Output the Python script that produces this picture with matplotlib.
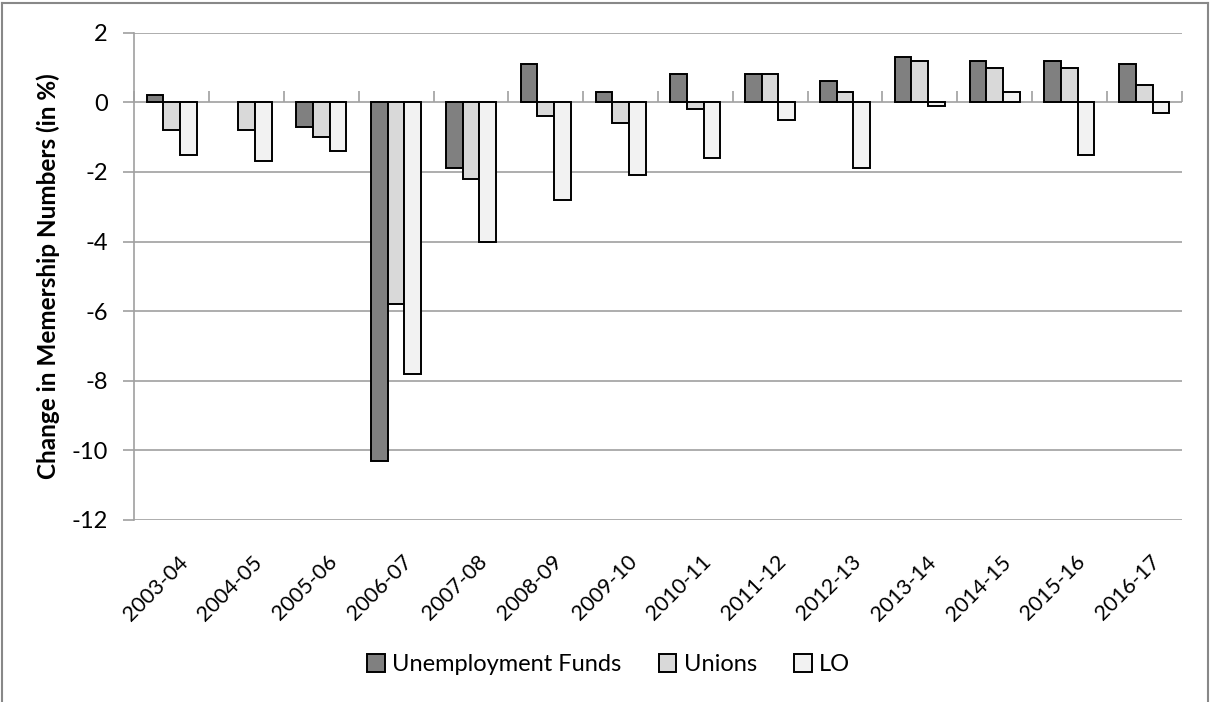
import matplotlib
matplotlib.use('Agg')
import matplotlib.pyplot as plt
import matplotlib.transforms as mtransforms
import numpy as np
from matplotlib.lines import Line2D

plt.rcParams['font.family'] = ['Lato', 'DejaVu Sans']
plt.rcParams['axes.unicode_minus'] = False

years = ['2003-04', '2004-05', '2005-06', '2006-07', '2007-08', '2008-09', '2009-10',
         '2010-11', '2011-12', '2012-13', '2013-14', '2014-15', '2015-16', '2016-17']
unemployment_funds = [0.2, 0.0, -0.7, -10.3, -1.9, 1.1, 0.3, 0.8, 0.8, 0.6, 1.3, 1.2, 1.2, 1.1]
unions = [-0.8, -0.8, -1.0, -5.8, -2.2, -0.4, -0.6, -0.2, 0.8, 0.3, 1.2, 1.0, 1.0, 0.5]
lo = [-1.5, -1.7, -1.4, -7.8, -4.0, -2.8, -2.1, -1.6, -0.5, -1.9, -0.1, 0.3, -1.5, -0.3]

series = [('Unemployment Funds', unemployment_funds, '#808080'),
          ('Unions', unions, '#d9d9d9'),
          ('LO', lo, '#f2f2f2')]

grid_col = '#a0a0a0'
fs = 17

fig = plt.figure(figsize=(12.1, 7.02), dpi=100)
ax = fig.add_axes([0.111, 0.2593, 0.8655, 0.6941])

x = np.arange(len(years))
w = 0.223
for i, (name, vals, col) in enumerate(series):
    bars = ax.bar(x + (i - 1) * w, vals, w, color=col, edgecolor='black', linewidth=1.4,
                  label=name, zorder=3)
    for b, v in zip(bars, vals):
        if v == 0:
            b.set_visible(False)

ax.set_xlim(-0.5, len(years) - 0.5)
ax.set_ylim(-12, 2)
ax.set_yticks(range(-12, 3, 2))
ax.yaxis.grid(True, color=grid_col, linewidth=1.2, zorder=0)
ax.set_axisbelow(True)

for s in ['top', 'right', 'bottom']:
    ax.spines[s].set_visible(False)
ax.spines['left'].set_color(grid_col)
ax.spines['left'].set_linewidth(1.2)

ax.tick_params(axis='y', colors=grid_col, length=8, width=1.2, labelsize=fs,
               labelcolor='black', pad=11)
ax.set_xticks(x)
ax.set_xticklabels(years, rotation=45, ha='right', rotation_mode='anchor', fontsize=15.5)
ax.tick_params(axis='x', length=0, pad=23)
shift = mtransforms.ScaledTranslation(6 / 100, 0, fig.dpi_scale_trans)
for lbl in ax.get_xticklabels():
    lbl.set_transform(lbl.get_transform() + shift)

# category axis crossing at zero, with ticks between categories
zero_ax = ax.secondary_xaxis(12 / 14)
zero_ax.set_xticks(np.arange(len(years) + 1) - 0.5)
zero_ax.set_xticklabels([])
zero_ax.tick_params(axis='x', direction='out', length=8, width=1.2, colors=grid_col)
zero_ax.spines['bottom'].set_color(grid_col)
zero_ax.spines['bottom'].set_linewidth(1.2)
zero_ax.spines['top'].set_visible(False)

ax.set_ylabel('Change in Memership Numbers (in %)', fontsize=17.5, fontweight='bold',
              labelpad=8)

handles, labels = ax.get_legend_handles_labels()
fig.legend(handles, labels, loc='center', bbox_to_anchor=(0.503, 0.053), ncol=3,
           frameon=False, fontsize=fs, handlelength=0.75, handleheight=0.75,
           handletextpad=0.3, columnspacing=1.6)

# chart area border
for xs, ys in [([0.002, 0.002], [0.0, 0.996]), ([0.002, 0.998], [0.996, 0.996]),
               ([0.998, 0.998], [0.0, 0.996])]:
    fig.add_artist(Line2D(xs, ys, color='#888888', linewidth=1.5, transform=fig.transFigure))

fig.savefig('out.png', dpi=100)
